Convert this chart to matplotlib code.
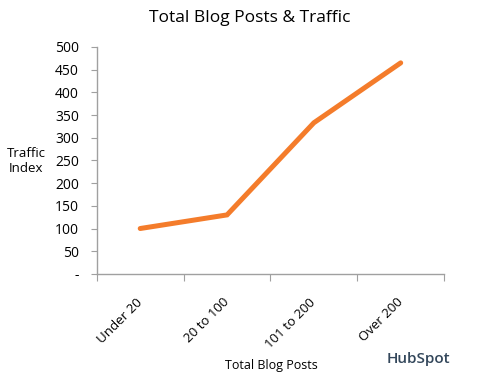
import matplotlib
matplotlib.use("Agg")
from matplotlib import pyplot as plt
import numpy as np

categories = ['Under 20', '20 to 100', '101 to 200', 'Over 200']
traffic_index = [100, 130, 333, 465]
y_ticks = [0, 50, 100, 150, 200, 250, 300, 350, 400, 450, 500]
y_tick_labels = ['-'] + [str(v) for v in y_ticks[1:]]

plt.rcParams['font.family'] = ['Open Sans', 'DejaVu Sans']

fig = plt.figure(figsize=(4.99, 3.82), dpi=100)
ax = fig.add_axes([0.194, 0.283, 0.696, 0.594])

x = np.arange(len(categories))
ax.plot(x, traffic_index, color='#F47C2B', linewidth=3.6, solid_capstyle='round',
        solid_joinstyle='miter')

ax.set_xlim(-0.5, len(categories) - 0.5)
ax.set_ylim(0, 500)

# ticks between categories, like the spreadsheet chart
ax.set_xticks(np.arange(-0.5, len(categories), 1.0))
ax.set_xticklabels([])
ax.set_xticks(x, minor=True)
ax.set_xticklabels(categories, minor=True, rotation=45, ha='right', va='center',
                   rotation_mode='anchor', fontsize=9.5)
ax.tick_params(axis='x', which='minor', length=0, pad=19)
ax.tick_params(axis='x', which='major', length=5, color='#A0A0A0', direction='out')

ax.set_yticks(y_ticks)
ax.set_yticklabels(y_tick_labels, fontsize=10)
ax.tick_params(axis='y', length=4, color='#A0A0A0', pad=9)

for side in ['top', 'right']:
    ax.spines[side].set_visible(False)
for side in ['left', 'bottom']:
    ax.spines[side].set_color('#A0A0A0')
    ax.spines[side].set_linewidth(1.0)

fig.text(0.5, 0.953, 'Total Blog Posts & Traffic', ha='center', va='center', fontsize=12.5)
fig.text(0.052, 0.578, 'Traffic\nIndex', ha='center', va='center', fontsize=9.5,
         linespacing=1.25)
fig.text(0.543, 0.044, 'Total Blog Posts', ha='center', va='center', fontsize=9)
fig.text(0.838, 0.06, 'HubSpot', ha='center', va='center', fontsize=11,
         fontweight='semibold', color='#33475B')

fig.savefig('out.png', dpi=100)
